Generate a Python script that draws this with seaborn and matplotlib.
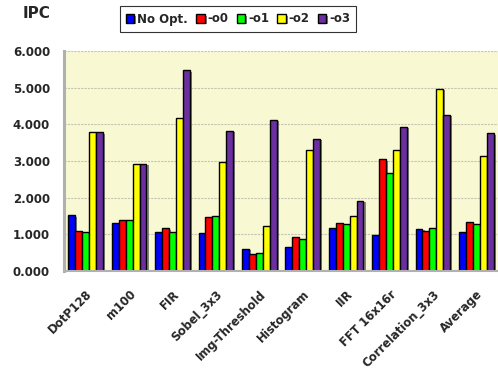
import numpy as np
import pandas as pd
import matplotlib
matplotlib.use("Agg")
import matplotlib.pyplot as plt
import matplotlib.patheffects as pe
import seaborn as sns

benchmarks = ["DotP128", "m100", "FIR", "Sobel_3x3", "Img-Threshold",
              "Histogram", "IIR", "FFT 16x16r", "Correlation_3x3", "Average"]
no_opt = [1.52, 1.32, 1.05, 1.03, 0.60, 0.66, 1.17, 0.99, 1.15, 1.05]
o0 = [1.09, 1.38, 1.16, 1.47, 0.46, 0.92, 1.31, 3.05, 1.09, 1.33]
o1 = [1.05, 1.38, 1.06, 1.50, 0.50, 0.87, 1.28, 2.67, 1.17, 1.28]
o2 = [3.78, 2.92, 4.16, 2.97, 1.23, 3.31, 1.50, 3.30, 4.97, 3.13]
o3 = [3.78, 2.92, 5.47, 3.83, 4.12, 3.60, 1.92, 3.93, 4.26, 3.76]
series_names = ["No Opt.", "-o0", "-o1", "-o2", "-o3"]
series_colors = ["#0000FF", "#FF0000", "#00FF00", "#FFFF00", "#6B2FA0"]
y_ticks = [0, 1, 2, 3, 4, 5, 6]

df = pd.DataFrame({
    "benchmark": benchmarks * 5,
    "series": np.repeat(series_names, len(benchmarks)),
    "ipc": no_opt + o0 + o1 + o2 + o3,
})

sns.set_theme(style="white")
plt.rcParams["font.family"] = ["DejaVu Sans"]
plt.rcParams["font.weight"] = "bold"

fig = plt.figure(figsize=(4.98, 3.72), dpi=100)
ax = fig.add_axes([0.1285, 0.2715, 0.8715, 0.5915])
ax.set_facecolor("#F8F8D2")

sns.barplot(data=df, x="benchmark", y="ipc", hue="series", order=benchmarks,
            hue_order=series_names, palette=series_colors, width=0.8,
            edgecolor="black", linewidth=1.0, saturation=1, ax=ax, legend=True)

for bar in ax.patches:
    bar.set_path_effects([pe.SimplePatchShadow(offset=(1.5, -1), shadow_rgbFace="#555555", alpha=0.7),
                          pe.Normal()])

ax.set_ylim(0, 6)
ax.set_xlim(-0.5, len(benchmarks) - 0.5)
ax.set_yticks(y_ticks)
ax.set_yticklabels([f"{v:.3f}" for v in y_ticks], fontsize=8.5, fontweight="bold")
ax.set_xticks(range(len(benchmarks)))
ax.set_xticklabels(benchmarks, rotation=45, ha="right", rotation_mode="anchor",
                   fontsize=8.4, fontweight="bold")
ax.tick_params(axis="y", length=0, pad=10)
ax.tick_params(axis="x", length=0, pad=12)
ax.set_xlabel("")
ax.set_ylabel("")
ax.yaxis.grid(True, color="#C4C4B4", linestyle=(0, (2, 1)), linewidth=0.8)
ax.set_axisbelow(True)

for side in ["top", "right"]:
    ax.spines[side].set_visible(False)
ax.spines["left"].set_color("#B0B0B0")
ax.spines["left"].set_linewidth(2.2)
ax.spines["bottom"].set_color("#B0B0B0")
ax.spines["bottom"].set_linewidth(1.5)

leg = ax.legend(loc="center", bbox_to_anchor=(238 / 498, 1 - 19 / 372),
                bbox_transform=fig.transFigure, ncol=5, frameon=True,
                fancybox=False, edgecolor="black", fontsize=8.5,
                handlelength=0.7, handleheight=0.7, handletextpad=0.25,
                columnspacing=0.7, borderpad=0.55, borderaxespad=0)
leg.get_frame().set_linewidth(0.8)
for t in leg.get_texts():
    t.set_fontweight("bold")

fig.text(23 / 498, 1 - 14 / 372, "IPC", fontsize=11, fontweight="bold", va="center", ha="left")

fig.savefig("out.png", dpi=100)
